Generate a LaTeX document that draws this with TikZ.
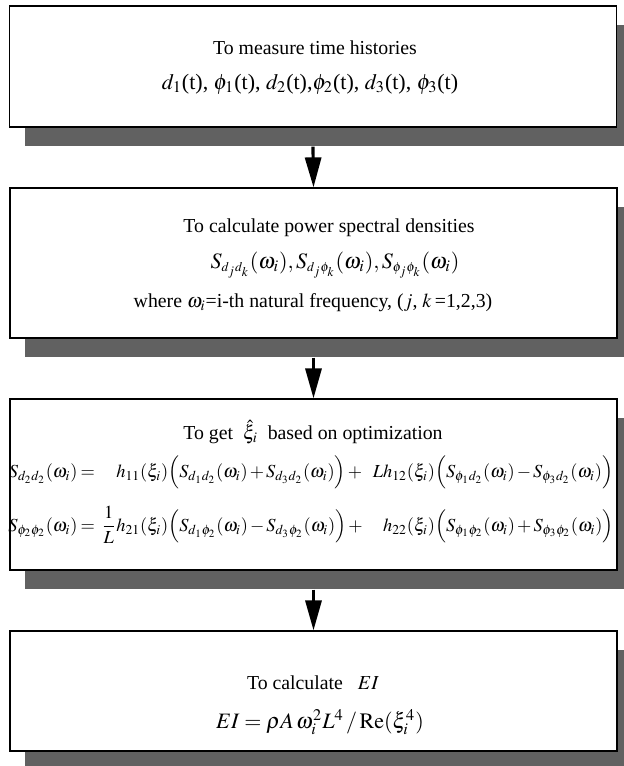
\documentclass[tikz,border=0pt]{standalone}
\usepackage{mathptmx}
\usepackage{fontspec}
\setmainfont{Liberation Serif}
\usetikzlibrary{positioning,arrows.meta,shadows}

\tikzset{
  stepbox/.style={draw, line width=0.6pt, fill=white, minimum width=303.5pt, inner sep=0pt,
    drop shadow={shadow xshift=7.5pt, shadow yshift=-9.5pt, fill=black!62, opacity=1}},
  flow/.style={-{Triangle[length=15pt,width=8pt]}, line width=1.6pt},
  txt/.style={inner sep=0pt, font=\fontsize{9.9}{12}\selectfont},
  vartxt/.style={inner sep=0pt, font=\fontsize{11}{13}\selectfont},
  eqtxt/.style={inner sep=0pt, font=\fontsize{9.2}{12}\selectfont},
}

\begin{document}
\begin{tikzpicture}[x=0.5pt,y=-0.5pt]
\useasboundingbox (0,0) rectangle (624,766);

% the four steps
\node[stepbox, minimum height=60.5pt] (measure) at (313,66.5) {};
\node[stepbox, minimum height=75pt] (psd) at (313.5,263) {};
\node[stepbox, minimum height=85.5pt] (optim) at (313.5,484.5) {};
\node[stepbox, minimum height=60pt] (calc) at (313.5,691) {};

% texts of step 1
\node[txt] (measure-title) at (315,48) {To measure time histories};
\node[vartxt] (measure-vars) at (310,84) {$d_1$(t), $\phi_1$(t), $d_2$(t),$\phi_2$(t), $d_3$(t), $\phi_3$(t)};

% texts of step 2
\node[txt] (psd-title) at (329,228) {To calculate power spectral densities};
\node[vartxt] (psd-eq) at (335,265) {$S_{\scriptscriptstyle d_jd_k}(\omega_i), S_{\scriptscriptstyle d_j\phi_k}(\omega_i), S_{\scriptscriptstyle \phi_j\phi_k}(\omega_i)$};
\node[txt] (psd-note) at (313,303) {where $\omega_i$=i-th natural frequency, ($j$, $k$\,=1,2,3)};

% texts of step 3
\node[txt] (optim-title) at (313,432) {To get \ $\hat{\xi}_i$ \ based on optimization};
\node[eqtxt] (optim-eq) at (311,500) {\medmuskip=2mu\thickmuskip=3mu$\begin{array}{@{}r@{}r@{}l@{}r@{}l@{}}
S_{d_2d_2}(\omega_i) ={} & \quad & h_{11}(\xi_i)\Big(S_{d_1d_2}(\omega_i)+S_{d_3d_2}(\omega_i)\Big)+{} & L & h_{12}(\xi_i)\Big(S_{\phi_1d_2}(\omega_i)-S_{\phi_3d_2}(\omega_i)\Big)\\[11pt]
S_{\phi_2\phi_2}(\omega_i) ={} & \displaystyle\frac{1}{L} & h_{21}(\xi_i)\Big(S_{d_1\phi_2}(\omega_i)-S_{d_3\phi_2}(\omega_i)\Big)+{} & \quad & h_{22}(\xi_i)\Big(S_{\phi_1\phi_2}(\omega_i)+S_{\phi_3\phi_2}(\omega_i)\Big)
\end{array}$};

% texts of step 4
\node[txt] (calc-title) at (313,683) {To calculate \ \ $EI$};
\node[vartxt] (calc-eq) at (320,722) {$EI = \rho A\,\omega_i^2 L^4 \,/\, \mathrm{Re}(\xi_i^4)$};

% arrows
\draw[flow] ([yshift=-9.5pt]measure.south) -- (psd.north);
\draw[flow] ([yshift=-9.5pt]psd.south) -- (optim.north);
\draw[flow] ([yshift=-9.5pt]optim.south) -- (calc.north);

\end{tikzpicture}
\end{document}
